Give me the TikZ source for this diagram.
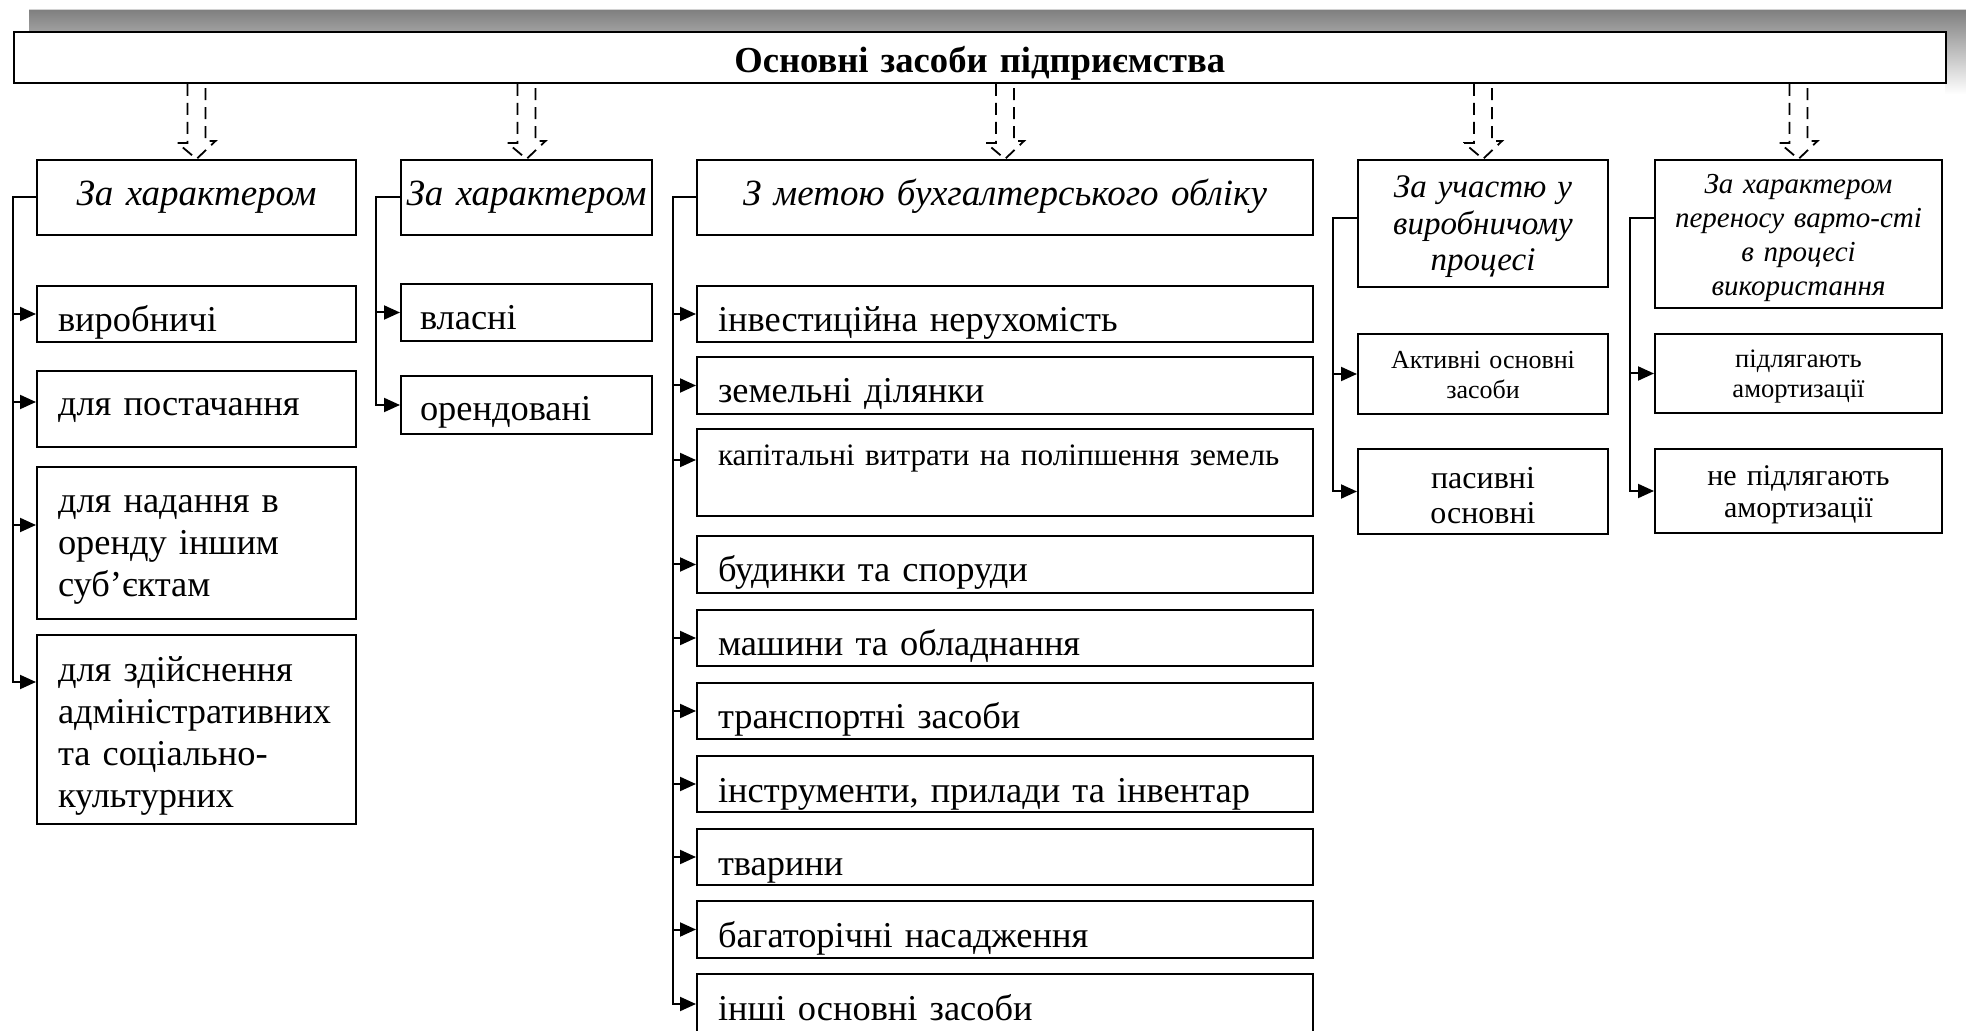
\documentclass[tikz,border=0pt]{standalone}
\usepackage{fontspec}
\setmainfont{Liberation Serif}
\usetikzlibrary{arrows.meta}
\definecolor{shade}{RGB}{192,192,192}
\newcommand{\titlefont}{\bfseries\fontsize{18.3}{22}\selectfont}
\newcommand{\bodyfont}{\fontsize{18.2}{21}\selectfont}
\newcommand{\headfont}{\itshape\fontsize{18.5}{21}\selectfont}
\newcommand{\smallfont}{\fontsize{13}{15}\selectfont}
% hollow dashed arrow from the title box down to a header
\newcommand{\fatarrow}[1]{%
  \draw[hollow] ([xshift=-4.5pt]main.south -| #1.north) -- ++(0,59) -- ++(-10,0)
    -- (#1.north) -- ++(19,-18) -- ++(-10,0) -- ([xshift=4.5pt]main.south -| #1.north);}
\begin{document}
\begin{tikzpicture}[x=0.5pt,y=-0.5pt,
  item/.style={draw,line width=1pt,fill=white,anchor=north west,inner ysep=0pt,
    inner xsep=10.5pt,align=left,font=\bodyfont},
  head/.style={item,align=center,font=\headfont},
  sz/.style 2 args={text height=#1,text depth=#2},
  col1/.style={text width=138.5pt},
  col2/.style={inner xsep=9.5pt,text width=106.5pt},
  col3/.style={text width=287pt},
  col4/.style={inner xsep=4pt,text width=117pt,align=center},
  col5/.style={inner xsep=4pt,text width=135.5pt,align=center},
  arr/.style={line width=1pt,-{Triangle[length=8pt,width=7pt]}},
  hollow/.style={line width=0.9pt,dash pattern=on 6pt off 3.5pt}]
\clip (0,0) rectangle (1966,1031);
\fill[white] (0,0) rectangle (1966,1031);
\fill[shade] (29,10) -- (1966,10) -- (1966,94) -- (1945,94) -- (1945,31) -- (29,31) -- cycle;
\node[item,align=center,inner xsep=0pt,text width=966.25pt,sz={20.5pt}{5pt},font=\titlefont] (main) at (12.5,31) {Основні засоби підприємства};

% first column
\node[head,col1,sz={23pt}{14.5pt}] (hdr1) at (36,159) {За характером};
\node[item,col1,sz={23pt}{5pt}] (b11) at (36,285) {виробничі};
\node[item,col1,sz={22.5pt}{15.5pt}] (b12) at (36,370) {для постачання};
\node[item,col1,sz={23pt}{53pt}] (b13) at (36,466) {для надання в\\оренду іншим\\суб’єктам};
\node[item,col1,sz={23.5pt}{71pt}] (b14) at (36,634) {для здійснення\\адміністративних\\та соціально-\\культурних};

% second column
\node[head,col2,inner xsep=1pt,text width=123.5pt,sz={23pt}{14.5pt}] (hdr2) at (400,159) {За характером};
\node[item,col2,sz={23pt}{5.5pt}] (b21) at (400,283) {власні};
\node[item,col2,sz={22.5pt}{6.5pt}] (b22) at (400,375) {орендовані};

% third column
\node[head,col3,sz={23pt}{14.5pt}] (hdr3) at (696,159) {З метою бухгалтерського обліку};
\node[item,col3,sz={23pt}{5pt}] (b31) at (696,285) {інвестиційна нерухомість};
\node[item,col3,sz={23pt}{5.5pt}] (b32) at (696,356) {земельні ділянки};
\node[item,col3,sz={18.5pt}{25pt},font=\fontsize{15.6}{18}\selectfont] (b33) at (696,428) {\mbox{капітальні витрати на поліпшення земель}};
\node[item,col3,sz={23pt}{5.5pt}] (b34) at (696,535) {будинки та споруди};
\node[item,col3,sz={23pt}{5pt}] (b35) at (696,609) {машини та обладнання};
\node[item,col3,sz={23pt}{5pt}] (b36) at (696,682) {транспортні засоби};
\node[item,col3,sz={23pt}{5pt}] (b37) at (696,755) {інструменти, прилади та інвентар};
\node[item,col3,sz={23pt}{5pt}] (b38) at (696,828) {тварини};
\node[item,col3,sz={23pt}{5.5pt}] (b39) at (696,900) {багаторічні насадження};
\node[item,col3,sz={23pt}{7pt}] (b310) at (696,973) {інші основні засоби};

% fourth column
\node[head,col4,sz={19pt}{44.5pt},font=\itshape\fontsize{16.5}{18.25}\selectfont] (hdr4) at (1357,159) {За участю у\\виробничому\\процесі};
\node[item,col4,sz={17.5pt}{22.5pt},font=\smallfont] (b41) at (1357,333) {Активні основні\\засоби};
\node[item,col4,sz={20pt}{22.5pt},font=\fontsize{16}{17.5}\selectfont] (b42) at (1357,448) {пасивні\\основні};

% fifth column
\node[head,col5,sz={17pt}{57pt},font=\itshape\fontsize{14.5}{17}\selectfont] (hdr5) at (1654,159) {За характером\\переносу варто-сті\\в процесі\\використання};
\node[item,col5,sz={17pt}{22.5pt},font=\fontsize{13.3}{15}\selectfont] (b51) at (1654,333) {підлягають\\амортизації};
\node[item,col5,sz={18.5pt}{23.5pt},font=\fontsize{15}{16}\selectfont] (b52) at (1654,448) {не підлягають\\амортизації};

% hollow arrows
\fatarrow{hdr1}
\fatarrow{hdr2}
\fatarrow{hdr3}
\fatarrow{hdr4}
\fatarrow{hdr5}

% branch lines
\coordinate (v1) at (12.5,300);
\coordinate (v2) at (376,300);
\coordinate (v3) at (673,300);
\coordinate (v4) at (1333,300);
\coordinate (v5) at (1630,300);

\draw[arr] (hdr1.west) -| (v1) |- ([yshift=23.75pt]b14.west);
\draw[arr] (v1 |- b11.west) -- (b11.west);
\draw[arr] ([yshift=3.5pt]b12.west -| v1) -- ([yshift=3.5pt]b12.west);
\draw[arr] ([yshift=9pt]b13.west -| v1) -- ([yshift=9pt]b13.west);

\draw[arr] (hdr2.west) -| (v2) |- (b22.west);
\draw[arr] (v2 |- b21.west) -- (b21.west);

\draw[arr] (hdr3.west) -| (v3) |- (b310.west);
\draw[arr] (v3 |- b31.west) -- (b31.west);
\draw[arr] (v3 |- b32.west) -- (b32.west);
\draw[arr] ([yshift=6.25pt]b33.west -| v3) -- ([yshift=6.25pt]b33.west);
\draw[arr] (v3 |- b34.west) -- (b34.west);
\draw[arr] (v3 |- b35.west) -- (b35.west);
\draw[arr] (v3 |- b36.west) -- (b36.west);
\draw[arr] (v3 |- b37.west) -- (b37.west);
\draw[arr] (v3 |- b38.west) -- (b38.west);
\draw[arr] (v3 |- b39.west) -- (b39.west);

\draw[arr] ([yshift=2.75pt]hdr4.west) -| (v4) |- (b42.west);
\draw[arr] (v4 |- b41.west) -- (b41.west);

\draw[arr] ([yshift=8pt]hdr5.west) -| (v5) |- (b52.west);
\draw[arr] (v5 |- b51.west) -- (b51.west);
\end{tikzpicture}
\end{document}
